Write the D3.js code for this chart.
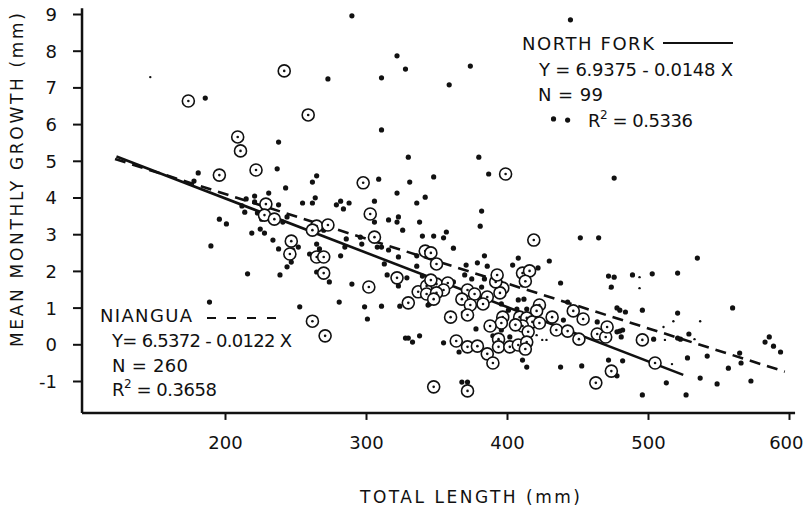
<!DOCTYPE html>
<html><head><meta charset="utf-8">
<script src="https://cdn.jsdelivr.net/npm/d3@7"></script>
<style>
html,body{margin:0;background:#fff;}
svg{display:block;font-family:"DejaVu Sans",sans-serif;}
</style></head><body>
<svg id="chart" width="805" height="508"></svg>
<script>
// ---- data ----
const xTicks = [200, 300, 400, 500, 600];
const yTicks = [-1, 0, 1, 2, 3, 4, 5, 6, 7, 8, 9];
const xExtent = [98.6, 604.3];
const yExtent = [-1.87, 9.16];

// regression fits: [intercept, slope], drawn between the given lengths
const fitNorthFork = [6.9375, -0.0148], spanNorthFork = [123, 525];
const fitNiangua = [6.5372, -0.0122], spanNiangua = [122, 597];

// North Fork fish (circled)  [total length, growth]
const northFork = [
  [174,6.63],[242,7.45],[209,5.65],[211,5.27],[196,4.61],[222,4.75],[229,3.82],[228,3.52],[235,3.41],[247,2.81],
  [246,2.46],[259,6.25],[298,4.40],[303,3.55],[306,2.92],[399,4.64],[419,2.84],[265,3.22],[273,3.25],[262,3.11],
  [265,2.38],[270,2.38],[270,1.94],[302,1.56],[322,1.81],[342,2.54],[346,2.49],[350,2.19],[337,1.43],[343,1.59],
  [350,1.64],[358,1.67],[355,1.48],[343,1.37],[350,1.40],[348,1.23],[346,1.75],[330,1.13],[372,1.48],[368,1.23],
  [377,1.37],[386,1.29],[374,1.07],[383,1.10],[397,1.53],[395,1.40],[392,1.70],[393,1.89],[411,1.94],[416,2.00],
  [413,1.72],[397,0.74],[396,0.58],[388,0.50],[409,0.74],[414,0.72],[418,0.61],[423,0.58],[432,0.74],[411,0.50],
  [415,0.34],[360,0.74],[372,0.80],[364,0.09],[372,-0.07],[379,-0.05],[394,0.14],[394,-0.07],[386,-0.26],[390,-0.51],
  [402,-0.07],[408,-0.02],[414,0.06],[413,-0.13],[423,1.07],[421,0.91],[447,0.91],[454,0.69],[435,0.39],[443,0.36],
  [451,0.14],[464,0.28],[470,0.20],[471,0.47],[496,0.12],[474,-0.73],[505,-0.51],[463,-1.05],[348,-1.16],[372,-1.27],
  [262,0.63],[271,0.23],[406,0.53]
];

// Niangua fish (dots)
const niangua = [
  [186,6.71],[290,8.95],[445,8.84],[322,7.86],[328,7.50],[273,7.23],[311,7.26],[374,7.58],[359,7.07],[238,5.51],
  [311,5.84],[237,4.78],[433,6.14],[443,6.11],[330,5.10],[380,5.10],[387,4.64],[476,4.53],[452,2.90],[465,2.90],
  [181,4.67],[178,4.45],[243,4.26],[231,4.12],[221,4.04],[215,3.96],[212,3.77],[214,3.60],[221,3.88],[223,3.58],
  [238,3.80],[244,3.47],[241,3.33],[226,3.41],[196,3.41],[201,3.28],[225,3.14],[219,3.03],[228,3.03],[234,2.84],
  [238,2.60],[248,2.57],[252,2.65],[247,2.24],[244,2.11],[190,2.68],[216,1.92],[239,1.89],[265,4.59],[262,4.42],
  [309,4.50],[331,4.42],[322,4.12],[342,4.01],[336,3.85],[348,4.56],[255,3.85],[264,3.99],[262,3.85],[279,3.80],
  [282,3.90],[288,3.85],[284,3.69],[306,3.90],[306,3.33],[316,3.39],[323,3.47],[322,3.33],[338,3.33],[326,3.11],
  [340,2.95],[348,2.95],[357,3.06],[355,2.90],[362,2.62],[382,3.63],[381,3.22],[270,3.11],[296,2.92],[286,2.87],
  [285,2.65],[297,2.73],[308,2.65],[311,2.65],[316,2.57],[265,2.73],[267,2.60],[260,2.46],[282,2.41],[323,2.38],
  [336,2.41],[336,2.13],[313,2.19],[265,1.97],[274,1.70],[315,1.89],[329,1.81],[323,1.59],[290,1.64],[340,1.86],
  [384,2.41],[408,2.35],[371,2.16],[379,2.22],[386,2.13],[404,2.16],[422,2.08],[347,1.83],[370,1.89],[375,1.78],
  [384,1.78],[362,1.70],[382,1.56],[412,1.23],[396,1.10],[407,0.96],[414,0.96],[345,1.10],[378,0.42],[396,0.39],
  [328,0.17],[338,0.23],[430,2.27],[438,1.67],[472,1.86],[476,1.83],[474,1.56],[411,1.62],[408,1.21],[443,1.15],
  [464,0.61],[478,0.99],[401,0.93],[404,0.58],[390,0.23],[402,0.20],[411,-0.43],[414,-0.62],[472,-0.43],[535,2.35],
  [489,1.89],[503,1.92],[521,1.94],[560,0.99],[496,0.93],[484,0.88],[480,0.93],[521,0.85],[480,0.36],[482,0.39],
  [478,0.34],[481,0.20],[504,0.14],[523,0.14],[521,0.17],[529,0.28],[583,0.06],[586,0.20],[589,-0.05],[594,-0.21],
  [565,-0.24],[566,-0.51],[557,-0.65],[542,-0.32],[528,-0.37],[482,-0.45],[478,-0.86],[537,-0.92],[549,-1.08],[573,-1.00],
  [513,-1.05],[496,-1.38],[527,-1.38],[281,1.15],[299,1.02],[311,1.04],[253,1.02],[324,1.04],[301,0.69],[330,0.17],
  [333,0.06],[355,0.04],[366,-0.21],[368,-1.03],[372,-1.03],[344,1.07],[369,0.85],[189,1.15],[440,0.66],[453,-0.59],
  [438,-0.62]
];
// faint, half-printed Niangua dots
const nianguaFaint = [
  [147,7.28],[494,1.83],[494,1.53],[473,1.53],[533,0.14],[537,0.63],[518,0.63],[511,0.47],[512,0.12],[517,-0.54],
  [338,0.25],[421,0.25],[425,0.12],[428,0.12]
];

// ---- chart ----
const svg = d3.select('#chart');
const x = d3.scaleLinear().domain([100, 600]).range([84, 789]);
const y = d3.scaleLinear().domain([-1, 9]).range([381, 14]);
const INK = '#111';

// axes
const gx = svg.append('g').attr('transform', `translate(0,${y(yExtent[0])})`)
  .call(d3.axisBottom(x).tickValues(xTicks).tickSize(7).tickSizeOuter(0).tickPadding(16));
const gy = svg.append('g').attr('transform', `translate(${x(xExtent[0])},0)`)
  .call(d3.axisLeft(y).tickValues(yTicks).tickSize(9).tickSizeOuter(0).tickPadding(16).tickFormat(d => String(d)));
[gx, gy].forEach(g => {
  g.select('.domain').remove();
  g.selectAll('line').attr('stroke', INK).attr('stroke-width', 2);
  g.selectAll('text').attr('fill', INK).style('font-size', '18px').style('font-family', '"DejaVu Sans",sans-serif');
});
gy.selectAll('text').attr('dy', '0.36em');
gx.selectAll('.tick text').filter(d => d === 600).attr('text-anchor', 'end').attr('dx', 14);
svg.append('line').attr('x1', x(xExtent[0])).attr('x2', x(xExtent[1]))
  .attr('y1', y(yExtent[0])).attr('y2', y(yExtent[0])).attr('stroke', INK).attr('stroke-width', 2.5);
svg.append('line').attr('x1', x(xExtent[0])).attr('x2', x(xExtent[0]))
  .attr('y1', y(yExtent[0])).attr('y2', y(yExtent[1])).attr('stroke', INK).attr('stroke-width', 2.5);

// regression lines
const fitLine = (fit, span) => span.map(v => [v, fit[0] + fit[1] * v]);
const line = d3.line().x(d => x(d[0])).y(d => y(d[1]));
svg.append('path').attr('d', line(fitLine(fitNiangua, spanNiangua)))
  .attr('fill', 'none').attr('stroke', INK).attr('stroke-width', 2.6).attr('stroke-dasharray', '11,7');
svg.append('path').attr('d', line(fitLine(fitNorthFork, spanNorthFork)))
  .attr('fill', 'none').attr('stroke', INK).attr('stroke-width', 2.6);

// points
svg.append('g').selectAll('circle').data(nianguaFaint).join('circle')
  .attr('cx', d => x(d[0])).attr('cy', d => y(d[1])).attr('r', 1.2).attr('fill', INK);
svg.append('g').selectAll('circle').data(niangua).join('circle')
  .attr('cx', d => x(d[0])).attr('cy', d => y(d[1])).attr('r', 2.6).attr('fill', INK);
const nf = svg.append('g').selectAll('g').data(northFork).join('g')
  .attr('transform', d => `translate(${x(d[0])},${y(d[1])})`);
nf.append('circle').attr('r', 6).attr('fill', '#fff').attr('stroke', INK).attr('stroke-width', 1.6);
nf.append('circle').attr('r', 1.3).attr('fill', INK);

// titles
svg.append('text').attr('x', 360).attr('y', 503).attr('textLength', 220).attr('lengthAdjust', 'spacing')
  .style('font-size', '17px').attr('fill', INK).text('TOTAL LENGTH (mm)');
svg.append('text').attr('transform', 'translate(23,347) rotate(-90)').attr('textLength', 334).attr('lengthAdjust', 'spacing')
  .style('font-size', '17px').attr('fill', INK).text('MEAN MONTHLY GROWTH (mm)');

// legends
function label(xp, yp, len, parts){
  const t = svg.append('text').attr('x', xp).attr('y', yp).attr('textLength', len).attr('lengthAdjust', 'spacing')
    .style('font-size', '18px').attr('fill', INK);
  parts.forEach(p => { const s = t.append('tspan').text(p.t); if(p.sup) s.attr('dy', -8).style('font-size', '12px'); if(p.down) s.attr('dy', 8); });
}
label(522, 50, 132, [{t:'NORTH FORK'}]);
svg.append('line').attr('x1', 663).attr('x2', 733).attr('y1', 43).attr('y2', 43).attr('stroke', INK).attr('stroke-width', 2.2);
label(539, 76, 194, [{t:'Y = 6.9375 - 0.0148 X'}]);
label(538, 101, 65, [{t:'N = 99'}]);
label(588, 127, 105, [{t:'R'},{t:'2',sup:true},{t:' = 0.5336',down:true}]);

label(100, 322, 92, [{t:'NIANGUA'}]);
svg.append('line').attr('x1', 207).attr('x2', 287).attr('y1', 318).attr('y2', 318)
  .attr('stroke', INK).attr('stroke-width', 2.2).attr('stroke-dasharray', '9,11');
label(112, 347, 180, [{t:'Y= 6.5372 - 0.0122 X'}]);
label(112, 372, 76, [{t:'N = 260'}]);
label(112, 396, 105, [{t:'R'},{t:'2',sup:true},{t:' = 0.3658',down:true}]);
</script>
</body></html>
